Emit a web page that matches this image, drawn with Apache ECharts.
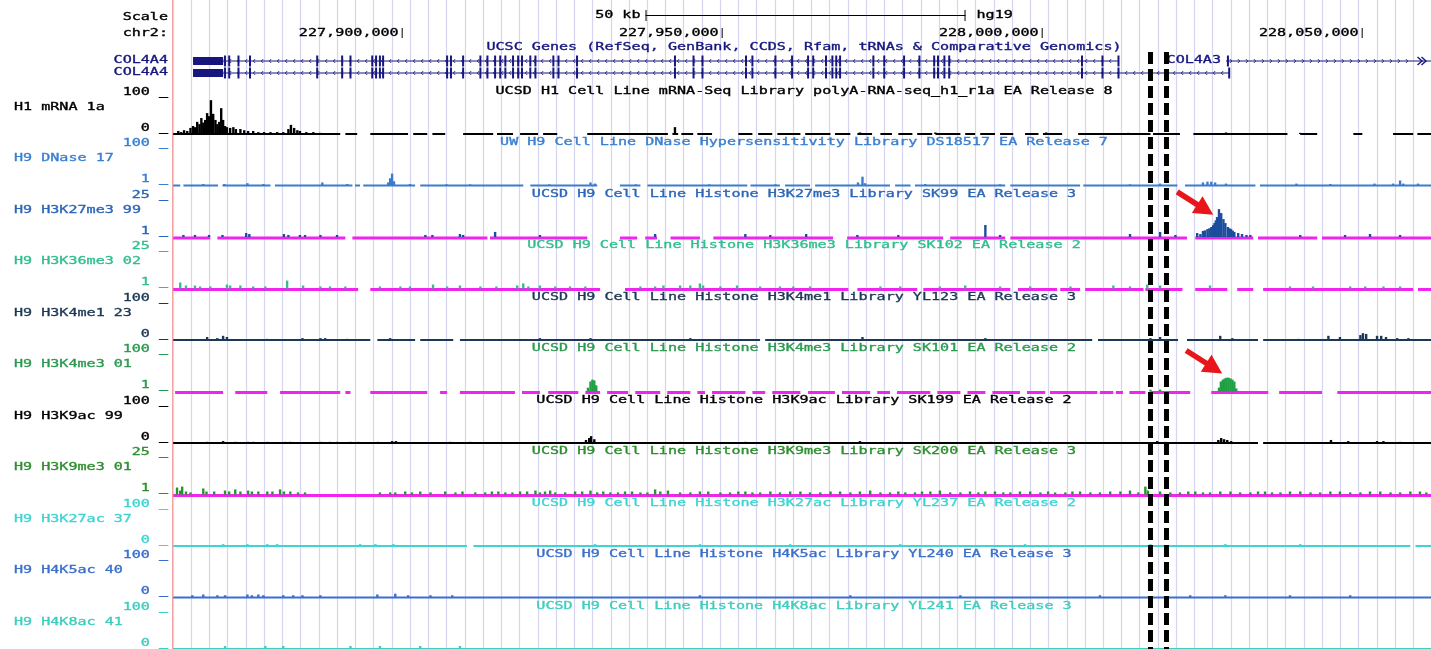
<!DOCTYPE html>
<html>
<head>
<meta charset="utf-8">
<title>chr2 COL4A4 / COL4A3 region</title>
<script src="https://cdn.jsdelivr.net/npm/echarts@6/dist/echarts.min.js"></script>
<style>
  html, body { margin: 0; padding: 0; background: #ffffff; }
  #chart { width: 1431px; height: 649px; }
</style>
</head>
<body>
<div id="chart"></div>
<script>
// ---- genomic window (kb on chr2, hg19) ----
const viewStartKb = 227864.27;
const viewEndKb = 228060.83;
const rulerTicksKb = [227900, 227950, 228000, 228050];
const scaleBarStartKb = 227938.1;
const scaleBarKb = 50;
const dashMarksKb = [228017.0, 228019.5];

// ---- gene models: [txStart, txEnd, row] (row 2 = upper line, row 1 = lower line) ----
const geneLabels = ['COL4A4', 'COL4A4', 'COL4A3'];
const geneStrands = [-1, -1, 1];
const geneTracks = [
  [227867.4, 228012.0, 2],
  [227867.4, 228029.3, 1],
  [228028.8, 228179.5, 2]
];
const col4a4Utr = [227867.4, 227872.1];
const col4a4Exons = [227872.4, 227873.05, 227874.5, 227876.3, 227886.8, 227890.7, 227892.0, 227895.4,
  227896.0, 227896.6, 227897.1, 227907.1, 227907.7, 227909.6, 227912.3, 227913.4, 227914.6, 227915.4,
  227916.2, 227917.4, 227918.2, 227918.8, 227920.1, 227920.9, 227923.7, 227924.5, 227927.4, 227942.7,
  227945.6, 227947.0, 227953.8, 227954.8, 227958.4, 227961.0, 227963.5, 227964.3, 227966.3, 227967.3,
  227967.9, 227968.5, 227973.7, 227975.4, 227978.5, 227980.9, 227983.2, 227983.8, 227984.8, 227985.55,
  228006.3, 228009.5, 228012.0];
const col4a4LongExtraExons = [228029.3];
const col4a3Exons = [228029.1];

// ---- signal tracks ----
const trackNames = ['H1 mRNA 1a', 'H9 DNase 17', 'H9 H3K27me3 99', 'H9 H3K36me3 02', 'H9 H3K4me1 23',
  'H9 H3K4me3 01', 'H9 H3K9ac 99', 'H9 H3K9me3 01', 'H9 H3K27ac 37', 'H9 H4K5ac 40', 'H9 H4K8ac 41'];
const trackTitles = [
  'UCSD H1 Cell Line mRNA-Seq Library polyA-RNA-seq_h1_r1a EA Release 8',
  'UW H9 Cell Line DNase Hypersensitivity Library DS18517 EA Release 7',
  'UCSD H9 Cell Line Histone H3K27me3 Library SK99 EA Release 3',
  'UCSD H9 Cell Line Histone H3K36me3 Library SK102 EA Release 2',
  'UCSD H9 Cell Line Histone H3K4me1 Library YL123 EA Release 3',
  'UCSD H9 Cell Line Histone H3K4me3 Library SK101 EA Release 2',
  'UCSD H9 Cell Line Histone H3K9ac Library SK199 EA Release 2',
  'UCSD H9 Cell Line Histone H3K9me3 Library SK200 EA Release 3',
  'UCSD H9 Cell Line Histone H3K27ac Library YL237 EA Release 2',
  'UCSD H9 Cell Line Histone H4K5ac Library YL240 EA Release 3',
  'UCSD H9 Cell Line Histone H4K8ac Library YL241 EA Release 3'
];
const trackMax = [100, 100, 25, 25, 100, 100, 100, 25, 100, 100, 100];
const trackMin = [0, 1, 1, 1, 0, 1, 0, 1, 0, 0, 0];

const mrnaSegs = [[227864.3, 227890.4], [227891.2, 227893.05], [227895.1, 227901.0], [227901.8, 227904.0],
  [227904.8, 227906.8], [227909.6, 227914.3], [227914.9, 227917.4], [227918.5, 227921.3], [227922.1, 227924.3],
  [227929.0, 227941.6], [227942.3, 227943.2], [227943.7, 227945.55], [227946.2, 227948.5], [227952.6, 227954.8],
  [227955.7, 227957.9], [227958.7, 227962.3], [227963.05, 227967.0], [227967.7, 227970.1], [227971.2, 227973.5],
  [227974.8, 227976.6], [227977.6, 227979.8], [227980.55, 227982.9], [227983.4, 227987.3], [227988.05, 227989.6],
  [227990.4, 227992.7], [227993.5, 227995.55], [227997.4, 227999.5], [228000.2, 228003.2], [228005.7, 228017.0],
  [228017.4, 228021.6], [228023.7, 228038.4], [228040.4, 228043.05], [228048.7, 228050.1], [228054.9, 228058.05],
  [228058.7, 228060.9]];
const mrnaPeaks = [[227865.1, 8], [227865.55, 5], [227866.0, 10], [227866.5, 8], [227867.0, 16], [227867.4, 21],
  [227867.7, 18], [227868.05, 32], [227868.4, 26], [227868.7, 42], [227869.0, 30], [227869.3, 37], [227869.6, 55],
  [227869.9, 47], [227870.2, 89], [227870.55, 53], [227870.9, 37], [227871.2, 26], [227871.5, 32], [227871.8, 68],
  [227872.1, 37], [227872.4, 21], [227872.7, 18], [227873.2, 16], [227873.7, 18], [227874.1, 13], [227874.8, 13],
  [227875.4, 10], [227876.0, 8], [227876.8, 8], [227877.6, 5], [227878.5, 5], [227879.5, 5], [227880.55, 5],
  [227881.5, 5], [227882.3, 13], [227882.7, 24], [227883.2, 16], [227883.7, 10], [227884.1, 8], [227885.1, 5],
  [227886.2, 5], [227887.3, 3], [227942.7, 18], [227971.6, 4], [227983.4, 4], [228000.7, 4], [228013.5, 3],
  [228028.8, 4], [228040.4, 3]];

const dnaseSegs = [[227864.3, 227865.4], [227865.9, 227871.3], [227872.0, 227879.5], [227880.2, 227892.3],
  [227892.7, 227893.5], [227894.0, 227902.1], [227902.9, 227919.0], [227920.1, 227930.55], [227934.1, 227937.3],
  [227938.4, 227954.0], [227954.5, 227959.1], [227959.9, 227963.8], [227964.6, 227976.3], [227977.1, 227979.5],
  [227980.2, 227994.3], [227995.1, 228006.0], [228006.5, 228021.2], [228022.4, 228033.4], [228034.1, 228060.9]];
const dnasePeaks = [[227869.0, 5], [227872.3, 5], [227875.9, 7], [227878.4, 5], [227887.6, 9], [227891.5, 5],
  [227897.9, 9], [227898.2, 20], [227898.5, 32], [227898.8, 12], [227901.3, 5], [227907.0, 4], [227910.7, 4],
  [227923.05, 4], [227929.5, 9], [227930.2, 6], [227936.6, 4], [227948.05, 4], [227958.4, 4], [227971.3, 9],
  [227972.0, 24], [227972.4, 7], [227981.8, 5], [227993.5, 4], [228013.8, 4], [228018.5, 6], [228025.2, 9],
  [228025.9, 11], [228026.5, 11], [228027.1, 9], [228028.8, 6], [228039.8, 6], [228045.1, 5], [228052.0, 6],
  [228054.9, 6], [228056.0, 14], [228056.5, 6], [228058.8, 6]];

const k27me3Segs = [[227864.3, 227870.1], [227871.2, 227891.2], [227892.3, 227913.4], [227913.8, 227929.0],
  [227934.1, 227936.8], [227938.05, 227939.9], [227942.0, 227946.6], [227948.7, 227967.4], [227969.6, 227984.6],
  [227985.7, 227994.3], [227995.1, 228022.7], [228024.0, 228033.05], [228033.8, 228043.05], [228043.8, 228060.9]];
const k27me3Peaks = [[227865.9, 2.3], [227867.7, 2.3], [227869.9, 2.3], [227872.0, 2.3], [227875.7, 3.5],
  [227876.2, 2.9], [227881.6, 2.9], [227882.3, 2.3], [227884.1, 2.3], [227884.9, 2.3], [227887.3, 2.3],
  [227889.9, 2.3], [227903.7, 2.3], [227904.8, 2.3], [227909.1, 2.9], [227909.6, 2.3], [227914.6, 4.2],
  [227921.6, 2.3], [227939.6, 2.9], [227953.7, 2.9], [227957.6, 2.3], [227963.2, 2.9], [227971.2, 2.3],
  [227977.6, 2.3], [227991.2, 8.6], [227993.5, 2.3], [228013.8, 2.9], [228018.5, 4.2], [228020.9, 2.3],
  [228024.3, 3.5], [228024.8, 2.9], [228025.2, 4.8], [228025.5, 5.2], [228025.9, 6.0], [228026.2, 6.5],
  [228026.5, 7.3], [228026.8, 8.5], [228027.0, 9.8], [228027.2, 11.5], [228027.4, 13.6], [228027.7, 18.6],
  [228028.05, 16.1], [228028.4, 12.3], [228028.7, 9.8], [228029.1, 7.3], [228029.35, 6.5], [228029.6, 6.0],
  [228029.85, 5.0], [228030.1, 4.2], [228030.7, 3.5], [228031.3, 2.9], [228032.0, 2.3], [228032.6, 2.3],
  [228040.4, 2.3], [228047.4, 2.3], [228051.3, 2.9], [228056.0, 2.3]];

const k36me3Segs = [[227864.3, 227893.2], [227895.1, 227931.0], [227934.9, 227969.8], [227971.2, 227980.55],
  [227981.5, 227995.1], [227996.3, 228002.4], [228002.9, 228006.0], [228006.8, 228015.9], [228016.2, 228022.0],
  [228024.0, 228029.0], [228030.55, 228033.05], [228034.6, 228058.05], [228058.8, 228060.9]];
const k36me3Peaks = [[227865.4, 4.8], [227866.3, 2.9], [227868.5, 2.3], [227872.7, 3.5], [227873.2, 2.9],
  [227876.8, 2.3], [227882.1, 6.0], [227884.6, 2.9], [227887.3, 2.3], [227888.8, 2.3], [227896.6, 2.3],
  [227899.8, 2.3], [227904.9, 3.5], [227907.1, 2.3], [227914.8, 2.3], [227918.05, 2.9], [227919.0, 4.2],
  [227919.8, 2.3], [227926.3, 2.3], [227939.6, 2.3], [227940.9, 2.9], [227943.5, 2.9], [227946.6, 4.2],
  [227947.1, 2.9], [227952.4, 2.9], [227956.0, 2.3], [227961.2, 2.3], [227974.8, 2.3], [227988.05, 2.9],
  [228011.2, 2.9], [228016.5, 3.5], [228018.5, 2.9], [228026.3, 2.9], [228042.4, 2.3], [228048.2, 2.3],
  [228050.55, 2.3], [228053.4, 2.3],
  [227867.7, 2.9], [227870.1, 2.3], [227874.8, 2.9], [227878.7, 2.3], [227891.2, 2.3], [227901.3, 2.3],
  [227909.1, 2.9], [227912.3, 2.3], [227921.6, 2.9], [227924.0, 2.3], [227928.7, 2.3], [227937.3, 2.3],
  [227945.1, 2.9], [227949.8, 2.3], [227959.1, 2.3], [227963.8, 2.3], [227977.9, 2.3], [227984.1, 2.3],
  [227993.5, 2.3], [227998.2, 2.3], [228004.5, 2.3], [228013.8, 2.3], [228038.8, 2.3], [228056.0, 2.3]];

const k4me1Segs = [[227864.3, 227895.1], [227896.2, 227902.1], [227902.9, 227908.05], [227909.1, 227956.0],
  [227956.8, 228007.9], [228008.8, 228021.3], [228022.7, 228033.8], [228034.6, 228060.9]];
const k4me1Peaks = [[227869.6, 8], [227871.2, 5], [227872.1, 11], [227872.7, 8], [227879.0, 3], [227884.5, 5],
  [227887.3, 5], [227888.05, 5], [227891.5, 3], [227898.2, 5], [227921.6, 5], [227929.5, 5], [227945.1, 5],
  [227972.0, 8], [227991.2, 5], [228017.0, 5], [228018.5, 8], [228027.9, 11], [228029.8, 5], [228040.1, 3],
  [228044.8, 11], [228046.6, 8], [228049.8, 13], [228050.2, 18], [228050.7, 16], [228052.4, 11], [228053.05, 11],
  [228053.8, 8], [228055.55, 5], [228057.3, 5]];

const k4me3Segs = [[227864.6, 227872.1], [227874.0, 227879.0], [227881.0, 227890.4], [227891.2, 227892.0],
  [227895.1, 227904.0], [227906.0, 227907.1], [227909.1, 227917.7], [227918.8, 227921.6], [227922.9, 227927.6],
  [227928.7, 227931.0], [227932.1, 227935.4], [227936.5, 227940.4], [227941.5, 227945.1], [227946.2, 227947.4],
  [227948.5, 227953.7], [227954.8, 227956.8], [227957.9, 227962.3], [227963.5, 227967.7], [227968.8, 227973.2],
  [227974.3, 227976.3], [227977.4, 227982.6], [227983.7, 227987.3], [227988.4, 227991.2], [227992.3, 227996.6],
  [227997.7, 228000.55], [228001.3, 228008.7], [228009.1, 228011.2], [228011.6, 228012.7], [228013.7, 228016.2],
  [228017.0, 228023.2], [228026.5, 228035.4], [228037.1, 228043.8], [228046.2, 228060.9]];
const k4me3Peaks = [[227929.1, 11], [227929.5, 27], [227929.8, 32], [227930.1, 30], [227930.4, 17],
  [228017.0, 6], [228018.5, 6], [228027.7, 11], [228028.0, 27], [228028.3, 32], [228028.6, 35], [228028.9, 37],
  [228029.2, 37], [228029.5, 35], [228029.8, 32], [228030.1, 27], [228030.4, 9]];

const k9acSegs = [[227864.3, 228033.8], [228034.6, 228060.9]];
const k9acPeaks = [[227869.6, 3], [227872.1, 5], [227874.0, 3], [227876.0, 3], [227876.8, 3], [227879.0, 3],
  [227881.8, 3], [227882.6, 3], [227887.3, 3], [227888.8, 3], [227889.9, 3], [227892.0, 3], [227893.2, 3],
  [227896.3, 3], [227898.5, 5], [227899.1, 5], [227907.6, 3], [227910.7, 3], [227928.8, 8], [227929.3, 13],
  [227929.6, 18], [227930.1, 10], [227943.5, 3], [227953.7, 3], [227960.7, 3], [227971.6, 5], [227977.9, 3],
  [227992.0, 3], [227999.8, 3], [228018.05, 5], [228019.3, 3], [228027.6, 8], [228028.05, 13], [228028.5, 10],
  [228029.0, 8], [228029.6, 5], [228045.2, 8], [228047.9, 5], [228052.4, 5], [228053.4, 5], [228056.0, 3]];

const k9me3Segs = [[227864.3, 228060.9]];
const k9me3Peaks = [[227864.9, 5.4], [227865.4, 3.5], [227865.7, 6.0], [227866.3, 2.9], [227867.0, 2.3],
  [227869.0, 4.8], [227869.5, 2.9], [227870.7, 2.9], [227872.4, 3.5], [227873.05, 2.9], [227874.0, 4.2],
  [227874.8, 2.9], [227876.0, 3.5], [227876.6, 2.9], [227877.6, 2.9], [227879.0, 2.9], [227879.8, 2.9],
  [227881.0, 4.2], [227881.6, 2.9], [227882.6, 2.9], [227883.8, 2.3], [227884.9, 2.3], [227896.6, 2.3],
  [227898.2, 2.3], [227899.0, 2.3], [227900.55, 2.9], [227901.6, 2.3], [227902.9, 2.9], [227904.5, 2.3],
  [227906.8, 2.9], [227908.4, 2.3], [227909.5, 2.9], [227911.5, 2.3], [227914.1, 2.9], [227916.2, 2.3],
  [227918.5, 2.9], [227920.9, 3.5], [227922.4, 2.9], [227924.0, 2.3], [227927.1, 2.9], [227929.5, 3.5],
  [227932.6, 2.3], [227934.9, 2.9], [227937.3, 2.3], [227939.6, 4.2], [227940.4, 2.9], [227943.5, 2.3],
  [227946.6, 2.9], [227949.8, 2.3], [227953.7, 2.9], [227956.0, 2.3], [227960.7, 2.9], [227963.8, 2.3],
  [227968.5, 2.9], [227973.2, 3.5], [227976.3, 2.3], [227978.7, 2.3], [227982.6, 2.9], [227987.3, 2.3],
  [227991.2, 2.9], [227995.1, 2.3], [227998.2, 2.9], [228002.1, 2.3], [228006.0, 2.9], [228009.1, 2.3],
  [228012.3, 2.9], [228016.2, 6.0], [228016.6, 3.5], [228021.6, 2.3], [228024.0, 2.9], [228026.3, 2.3],
  [228029.5, 2.9], [228032.6, 2.3], [228034.9, 2.9], [228037.3, 2.3], [228040.4, 2.9], [228043.5, 2.3],
  [228046.6, 2.9], [228049.8, 2.3], [228052.9, 2.9], [228056.0, 2.3], [228059.1, 2.9],
  [227913.05, 2.3], [227915.1, 2.9], [227917.3, 2.3], [227919.6, 2.9], [227921.6, 2.3], [227923.2, 3.5],
  [227925.55, 2.3], [227928.2, 2.9], [227930.55, 2.3], [227931.5, 2.9], [227933.8, 2.3], [227936.0, 2.9],
  [227938.4, 2.3], [227941.6, 3.5], [227945.1, 2.3], [227947.9, 2.9], [227951.3, 2.3], [227952.6, 2.9],
  [227954.8, 2.3], [227957.6, 2.9], [227959.1, 2.3], [227962.3, 2.9], [227965.4, 2.3], [227967.0, 2.9],
  [227970.1, 2.3], [227971.6, 2.9], [227974.8, 2.3], [227977.6, 2.9], [227980.2, 2.3], [227981.3, 2.9],
  [227984.1, 3.5], [227985.7, 2.3], [227988.8, 2.9], [227990.1, 2.3], [227992.7, 2.9], [227994.0, 2.3],
  [227996.6, 2.9], [227999.8, 2.3], [228001.0, 2.9], [228003.7, 2.3], [228004.8, 2.9], [228007.6, 2.3],
  [228010.7, 2.9], [228013.8, 3.5], [228015.1, 2.3], [228018.5, 2.9], [228020.1, 2.3], [228022.9, 2.9],
  [228025.2, 2.3], [228027.9, 2.9], [228031.0, 2.3], [228033.8, 2.9], [228036.0, 2.3], [228038.8, 2.9],
  [228042.0, 2.3], [228045.1, 2.9], [228048.2, 2.3], [228051.3, 2.9], [228054.5, 2.3], [228057.6, 2.9],
  [228060.1, 2.3]];

const k27acSegs = [[227864.3, 227910.2], [227911.2, 228057.6], [228058.4, 228060.9]];
const k27acPeaks = [[227872.1, 5], [227875.9, 5], [227879.0, 5], [227880.55, 5], [227893.5, 5], [227895.9, 5],
  [227898.7, 5], [227930.2, 5], [227946.6, 5], [227960.7, 5], [227977.9, 5], [227997.4, 5], [228017.0, 5],
  [228028.7, 5], [228040.4, 5]];

const h4k5acSegs = [[227864.3, 228060.9]];
const h4k5acPeaks = [[227867.3, 6], [227869.0, 8], [227871.2, 6], [227872.4, 6], [227875.9, 8], [227876.6, 6],
  [227877.6, 8], [227878.4, 6], [227881.5, 6], [227883.05, 6], [227884.5, 6], [227887.3, 6], [227896.2, 8],
  [227899.0, 10], [227901.0, 6], [227904.5, 6], [227907.9, 6], [227946.6, 6], [227970.1, 6], [227987.3, 6],
  [228009.1, 6], [228023.2, 6], [228028.7, 6], [228038.8, 6], [228048.2, 6]];

const h4k8acSegs = [[227864.3, 228060.9]];
const h4k8acPeaks = [[227872.4, 8], [227878.7, 8], [227881.5, 8], [227892.0, 8], [227896.6, 8], [227902.9, 8],
  [227909.1, 8]];

// ---- annotations: arrow tips as [kb, value] on a given track ----
const arrowTips = [
  { track: 2, at: [228026.8, 15] },
  { track: 5, at: [228028.2, 48] }
];

// ---- styling ----
const trackSegs = [mrnaSegs, dnaseSegs, k27me3Segs, k36me3Segs, k4me1Segs, k4me3Segs, k9acSegs, k9me3Segs,
  k27acSegs, h4k5acSegs, h4k8acSegs];
const trackPeaks = [mrnaPeaks, dnasePeaks, k27me3Peaks, k36me3Peaks, k4me1Peaks, k4me3Peaks, k9acPeaks,
  k9me3Peaks, k27acPeaks, h4k5acPeaks, h4k8acPeaks];
const signalColors = ['#000000', '#3b7ccc', '#1b4d9c', '#36bf84', '#1d3757', '#1fa044', '#000000', '#22962a',
  '#3ed4d4', '#3a6fd2', '#3fcdbf'];
const textColors = ['#000000', '#3a7fd0', '#2c66b8', '#30bf8c', '#1d3757', '#2b9a50', '#000000', '#2e8e30',
  '#3ed4d4', '#3a6fcc', '#3fcdbf'];
const magentaBase = [false, false, true, true, false, true, false, true, false, false, false];
const MAGENTA = '#f024ee';
const GENE_COLOR = '#16167e';
const GRID_LEFT = 173, GRID_W = 1258, CHART_H = 649;
const FIRST_BASE = 134, TRACK_STEP = 51.5, TRACK_H = 38;
const GUIDE_PX = 18.24;
const FONT = '11px "DejaVu Sans Mono", "Liberation Mono", monospace';
const STRETCH = 1.37;

const chart = echarts.init(document.getElementById('chart'), null, { renderer: 'canvas' });

const grids = [];
const xAxes = [];
const yAxes = [];
const series = [];

// grid 0: vertical guidelines across the data area
grids.push({ left: GRID_LEFT, top: 0, width: GRID_W, height: CHART_H, containLabel: false });
xAxes.push({
  gridIndex: 0, type: 'value', min: 0, max: GRID_W / GUIDE_PX, interval: 1,
  axisLine: { show: false }, axisTick: { show: false }, axisLabel: { show: false },
  splitLine: { show: true, lineStyle: { color: '#d5d5f0', width: 1.2 } }
});
yAxes.push({ gridIndex: 0, type: 'value', show: false, min: 0, max: 1, splitLine: { show: false } });

// grid 1: gene models
grids.push({ left: GRID_LEFT, top: 49, width: GRID_W, height: 36, containLabel: false });
xAxes.push({ gridIndex: 1, type: 'value', min: viewStartKb, max: viewEndKb, show: false });
yAxes.push({ gridIndex: 1, type: 'value', min: 0, max: 3, show: false });

function geneExons(i) {
  if (i === 0) return col4a4Exons;
  if (i === 1) return col4a4Exons.concat(col4a4LongExtraExons);
  return col4a3Exons;
}

function renderTranscript(params, api) {
  const i = params.dataIndex;
  const row = api.value(2);
  const a = api.coord([api.value(0), row]);
  const b = api.coord([api.value(1), row]);
  const cs = params.coordSys;
  const right = cs.x + cs.width;
  const y = a[1];
  const x0 = a[0];
  const clipped = b[0] > right;
  const x1 = Math.min(b[0], right);
  const strand = geneStrands[i];
  const kids = [];
  kids.push({ type: 'rect', shape: { x: x0, y: y - 0.6, width: x1 - x0, height: 1.2 }, style: { fill: GENE_COLOR } });
  // strand chevrons along the intron line
  for (let x = x0 + 5; x < x1 - (clipped ? 16 : 3); x += 8) {
    const pts = strand < 0
      ? [[x + 1.2, y - 2], [x - 0.8, y], [x + 1.2, y + 2]]
      : [[x - 1.2, y - 2], [x + 0.8, y], [x - 1.2, y + 2]];
    kids.push({ type: 'polyline', shape: { points: pts }, style: { stroke: GENE_COLOR, lineWidth: 1, fill: null, opacity: 0.85 } });
  }
  if (i < 2) {
    const u0 = api.coord([col4a4Utr[0], row])[0];
    const u1 = api.coord([col4a4Utr[1], row])[0];
    kids.push({ type: 'rect', shape: { x: u0, y: y - 4, width: u1 - u0, height: 8 }, style: { fill: GENE_COLOR } });
  }
  geneExons(i).forEach(function (e) {
    const xe = api.coord([e, row])[0];
    kids.push({ type: 'rect', shape: { x: xe - 1, y: y - 5.5, width: 2, height: 11 }, style: { fill: GENE_COLOR } });
  });
  if (clipped) {
    // continuation marker at the window edge
    [x1 - 11, x1 - 7].forEach(function (xc) {
      kids.push({ type: 'polyline', shape: { points: [[xc - 2.5, y - 4], [xc + 2, y], [xc - 2.5, y + 4]] },
        style: { stroke: GENE_COLOR, lineWidth: 1.4, fill: null } });
    });
  }
  return { type: 'group', children: kids };
}

series.push({
  type: 'custom', xAxisIndex: 1, yAxisIndex: 1, data: geneTracks, encode: { x: [0, 1], y: 2 },
  renderItem: renderTranscript, silent: true, z: 4, animation: false
});

function segRenderer(minV, color, lw, dy) {
  return function (params, api) {
    const a = api.coord([api.value(0), minV]);
    const b = api.coord([api.value(1), minV]);
    return { type: 'rect', shape: { x: a[0], y: a[1] - lw / 2 + dy, width: Math.max(1, b[0] - a[0]), height: lw },
      style: { fill: color } };
  };
}
function spikeRenderer(minV, color) {
  return function (params, api) {
    const a = api.coord([api.value(0), minV]);
    const b = api.coord([api.value(0), api.value(1)]);
    return { type: 'rect', shape: { x: a[0] - 1.2, y: b[1], width: 2.4, height: a[1] - b[1] }, style: { fill: color } };
  };
}

trackNames.forEach(function (name, i) {
  const gi = i + 2;
  const base = FIRST_BASE + TRACK_STEP * i;
  grids.push({ left: GRID_LEFT, top: base - TRACK_H, width: GRID_W, height: TRACK_H, containLabel: false });
  xAxes.push({ gridIndex: gi, type: 'value', min: viewStartKb, max: viewEndKb, show: false });
  yAxes.push({ gridIndex: gi, type: 'value', min: trackMin[i], max: trackMax[i], show: false });
  const baseColor = magentaBase[i] ? MAGENTA : signalColors[i];
  series.push({
    type: 'custom', name: name + ' coverage', xAxisIndex: gi, yAxisIndex: gi, data: trackSegs[i],
    encode: { x: [0, 1] }, renderItem: segRenderer(trackMin[i], baseColor, magentaBase[i] ? 3 : 2, magentaBase[i] ? 1 : 0),
    silent: true, z: 3, animation: false
  });
  series.push({
    type: 'custom', name: name, xAxisIndex: gi, yAxisIndex: gi, data: trackPeaks[i],
    encode: { x: 0, y: 1 }, renderItem: spikeRenderer(trackMin[i], signalColors[i]),
    silent: true, z: 5, animation: false
  });
});

chart.setOption({
  animation: false,
  backgroundColor: '#ffffff',
  grid: grids,
  xAxis: xAxes,
  yAxis: yAxes,
  series: series
});

// ---- text and annotations positioned through the axes ----
function px(gridIndex, x, y) { return chart.convertToPixel({ gridIndex: gridIndex }, [x, y]); }
function commas(n) { return String(n).replace(/\B(?=(\d{3})+(?!\d))/g, ','); }
function label(text, x, y, color, align) {
  const al = align || 'left';
  return {
    type: 'text', x: x, y: y, scaleX: STRETCH, scaleY: 1, silent: true, z: 10,
    style: { text: text, fill: color, stroke: color, lineWidth: 0.35, font: FONT, textAlign: al, align: al,
      textVerticalAlign: 'middle', verticalAlign: 'middle' }
  };
}
function vline(x, y0, y1, color, w, dash) {
  const st = { stroke: color, lineWidth: w };
  if (dash) st.lineDash = dash;
  return { type: 'line', silent: true, z: 12, shape: { x1: x, y1: y0, x2: x, y2: y1 }, style: st };
}

const els = [];
const centerX = GRID_LEFT + GRID_W / 2 + 2;

// left edge marker
els.push(vline(GRID_LEFT - 0.5, 0, CHART_H, '#f2a2a2', 1));

// ruler
els.push(label('Scale', 168, 17, '#000', 'right'));
els.push(label('chr2:', 168, 33, '#000', 'right'));
const sbA = px(1, scaleBarStartKb, 0)[0];
const sbB = px(1, scaleBarStartKb + scaleBarKb, 0)[0];
els.push({ type: 'line', silent: true, z: 10, shape: { x1: sbA, y1: 15.5, x2: sbB, y2: 15.5 }, style: { stroke: '#000', lineWidth: 1 } });
els.push(vline(sbA + 0.5, 10, 21, '#000', 1));
els.push(vline(sbB - 0.5, 10, 21, '#000', 1));
els.push(label(scaleBarKb + ' kb', sbA - 5, 15, '#000', 'right'));
els.push(label('hg19', sbB + 11, 15, '#000', 'left'));
rulerTicksKb.forEach(function (t) {
  const xt = px(1, t, 0)[0];
  els.push(vline(xt + 0.5, 28, 38, '#000', 1));
  els.push(label(commas(Math.round(t * 1000)), xt - 3, 33, '#000', 'right'));
});

// gene track labels
els.push(label('UCSC Genes (RefSeq, GenBank, CCDS, Rfam, tRNAs & Comparative Genomics)', centerX, 47, GENE_COLOR, 'center'));
const rowUpper = px(1, viewStartKb, 2)[1];
const rowLower = px(1, viewStartKb, 1)[1];
els.push(label(geneLabels[0], 168, rowUpper - 1, GENE_COLOR, 'right'));
els.push(label(geneLabels[1], 168, rowLower - 1, GENE_COLOR, 'right'));
const c3 = px(1, geneTracks[2][0], geneTracks[2][2]);
els.push(label(geneLabels[2], c3[0] - 5, c3[1] - 1, GENE_COLOR, 'right'));

// signal track labels
trackNames.forEach(function (name, i) {
  const gi = i + 2;
  const top = px(gi, viewStartKb, trackMax[i])[1];
  const bot = px(gi, viewStartKb, trackMin[i])[1];
  const c = textColors[i];
  els.push(label(name, 14, bot - 27, c, 'left'));
  els.push(label(trackMax[i] + ' _', 168, top - 4, c, 'right'));
  els.push(label(trackMin[i] + ' _', 168, bot - 6, c, 'right'));
  els.push(label(trackTitles[i], centerX, top - 5, c, 'center'));
});

// dashed boundary marks
const dashTop = px(1, viewStartKb, 3)[1] + 3;
dashMarksKb.forEach(function (k) {
  const xd = px(1, k, 0)[0];
  els.push(vline(xd, dashTop, CHART_H, '#000', 5, [12, 5]));
});

// arrows pointing at the peaks
arrowTips.forEach(function (a) {
  const tip = px(a.track + 2, a.at[0], a.at[1]);
  const tail = [tip[0] - 36, tip[1] - 23];
  const dx = tip[0] - tail[0], dy = tip[1] - tail[1];
  const len = Math.hypot(dx, dy);
  const ux = dx / len, uy = dy / len;
  const headLen = 19, headHalf = 10;
  const bc = [tip[0] - ux * headLen, tip[1] - uy * headLen];
  els.push({ type: 'line', silent: true, z: 13, shape: { x1: tail[0], y1: tail[1], x2: bc[0] + ux * 2, y2: bc[1] + uy * 2 },
    style: { stroke: '#e8151b', lineWidth: 5.5, lineCap: 'butt' } });
  els.push({ type: 'polygon', silent: true, z: 13,
    shape: { points: [[tip[0], tip[1]], [bc[0] - uy * headHalf, bc[1] + ux * headHalf], [bc[0] + uy * headHalf, bc[1] - ux * headHalf]] },
    style: { fill: '#e8151b' } });
});

chart.setOption({ graphic: { elements: els } });
</script>
</body>
</html>
